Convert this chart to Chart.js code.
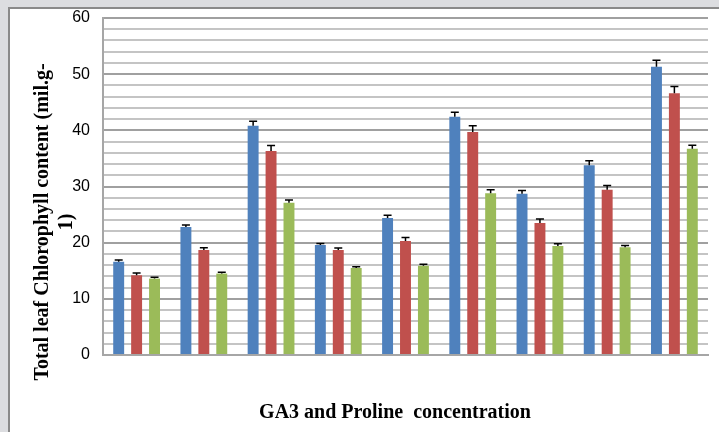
<!DOCTYPE html>
<html>
<head>
<meta charset="utf-8">
<script src="https://cdn.jsdelivr.net/npm/chart.js@4/dist/chart.umd.min.js"></script>
<style>
  html, body { margin: 0; padding: 0; background: #dcdde0; }
  #wrap { position: absolute; left: 0; top: 0; width: 719px; height: 432px; }
</style>
</head>
<body>
<div id="wrap"><canvas id="myChart" width="719" height="432"></canvas></div>
<script>
// treatments (no labels shown on the original axis)
const categories = ['1', '2', '3', '4', '5', '6', '7', '8', '9'];

// three series per treatment
const series1 = [16.6, 22.8, 40.8, 19.6, 24.4, 42.4, 28.7, 33.8, 51.3];
const series2 = [14.2, 18.7, 36.3, 18.7, 20.3, 39.7, 23.5, 29.4, 46.6];
const series3 = [13.6, 14.5, 27.1, 15.5, 15.9, 28.8, 19.4, 19.2, 36.7];

// upper error bars
const err1 = [0.3, 0.35, 0.8, 0.25, 0.5, 0.8, 0.6, 0.8, 1.2];
const err2 = [0.4, 0.4, 1.0, 0.35, 0.6, 1.1, 0.7, 0.8, 1.2];
const err3 = [0.25, 0.25, 0.5, 0.2, 0.25, 0.6, 0.4, 0.3, 0.65];

const yTitle = ['Total leaf Chlorophyll content (mil.g-', '1)'];
const xTitle = 'GA3 and Proline  concentration';

const frame = {
  id: 'frame',
  beforeDraw(chart) {
    const c = chart.ctx;
    c.save();
    c.fillStyle = '#dcdde0';
    c.fillRect(0, 0, chart.width, chart.height);
    c.fillStyle = '#ffffff';
    c.fillRect(10, 9, chart.width - 10, chart.height - 9);
    c.strokeStyle = '#8a8a8a';
    c.lineWidth = 2;
    c.beginPath();
    c.moveTo(9, chart.height);
    c.lineTo(9, 8);
    c.lineTo(chart.width, 8);
    c.stroke();
    c.restore();
  }
};

const errorBars = {
  id: 'errorBars',
  afterDatasetsDraw(chart) {
    const c = chart.ctx;
    const y = chart.scales.y;
    const errs = [err1, err2, err3];
    c.save();
    c.strokeStyle = '#000000';
    c.lineWidth = 1.5;
    chart.data.datasets.forEach((ds, i) => {
      chart.getDatasetMeta(i).data.forEach((bar, j) => {
        const top = y.getPixelForValue(ds.data[j] + errs[i][j]);
        c.beginPath();
        c.moveTo(bar.x, bar.y);
        c.lineTo(bar.x, top);
        c.moveTo(bar.x - 4, top);
        c.lineTo(bar.x + 4, top);
        c.stroke();
      });
    });
    c.restore();
  }
};

const titles = {
  id: 'titles',
  afterDraw(chart) {
    const c = chart.ctx;
    c.save();
    c.fillStyle = '#000000';
    c.font = 'bold 20px "Liberation Serif"';
    c.textAlign = 'center';
    c.textBaseline = 'middle';
    c.fillText(xTitle, 395, 413);
    c.translate(43, 222);
    c.rotate(-Math.PI / 2);
    yTitle.forEach((line, k) => c.fillText(line, 0, k * 24));
    c.restore();
  }
};

const ctx = document.getElementById('myChart').getContext('2d');
const myChart = new Chart(ctx, {
    type: 'bar',
    data: {
        labels: categories,
        datasets: [
          { data: series1, backgroundColor: '#4f81bd' },
          { data: series2, backgroundColor: '#c0504d' },
          { data: series3, backgroundColor: '#9bbb59' }
        ]
      },
    plugins: [frame, errorBars, titles],
    options: {
        responsive: false,
        animation: false,
        events: [],
        categoryPercentage: 0.8,
        barPercentage: 0.61,
        plugins: {
            legend: { display: false },
            tooltip: { enabled: false }
        },
        layout: {
            padding: { top: 18, right: 11, left: 0, bottom: 0 }
        },
        scales: {
            x: {
                ticks: { display: false },
                grid: { display: false },
                border: { color: '#a6a6a6', width: 2 },
                afterFit: (axis) => { axis.height = 77; }
            },
            y: {
                min: 0,
                max: 60,
                ticks: {
                    stepSize: 2,
                    autoSkip: false,
                    padding: 13,
                    color: '#000000',
                    font: { family: '"Liberation Sans"', size: 16 },
                    callback: (v) => (v % 10 === 0 ? v : '')
                },
                grid: {
                    color: (c) => (c.tick.value % 10 === 0 ? '#a0a0a0' : '#c4c4c4'),
                    lineWidth: 2,
                    drawTicks: false
                },
                border: { color: '#a6a6a6', width: 2 },
                afterFit: (axis) => {
                    axis.width = 103;
                    axis.paddingTop = 0;
                    axis.paddingBottom = 0;
                }
            }
        }
    }
});
</script>
</body>
</html>
